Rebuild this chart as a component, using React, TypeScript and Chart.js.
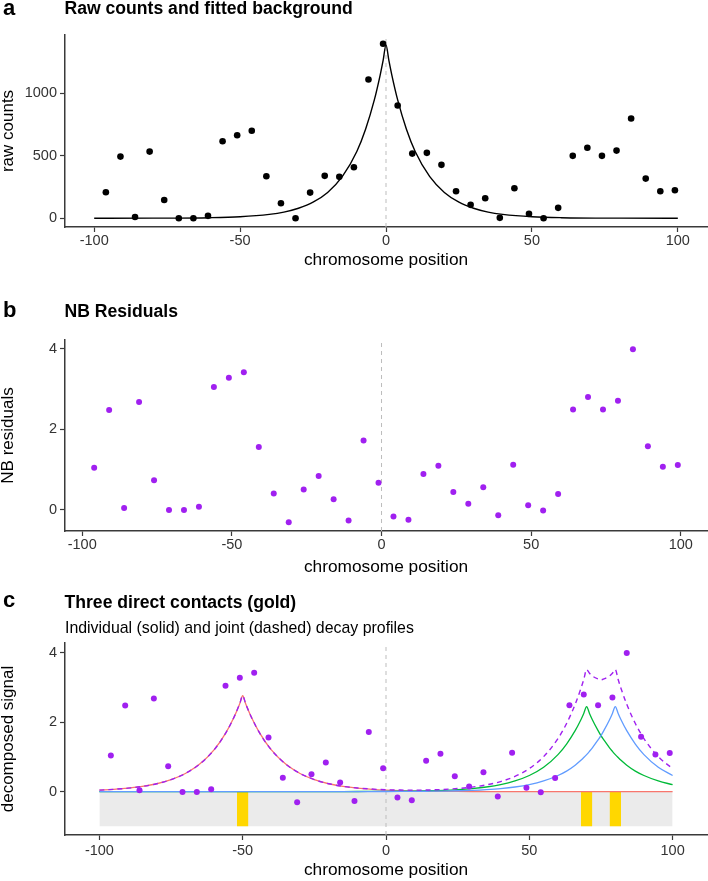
import React, { useEffect, useRef } from 'react';
import { Chart, registerables } from 'chart.js';
Chart.register(...registerables);

const FONT = '"Liberation Sans", Arial, Helvetica, sans-serif';

// ---- data ----
const POSITIONS = [-96, -91, -86, -81, -76, -71, -66, -61, -56, -51, -46, -41, -36, -31, -26, -21, -16, -11, -6, -1, 4, 9, 14, 19, 24, 29, 34, 39, 44, 49, 54, 59, 64, 69, 74, 79, 84, 89, 94, 99];
const RAW_COUNTS = [208, 493, 10, 533, 146, 0, 0, 19, 616, 664, 699, 336, 120, 0, 205, 339, 331, 408, 1109, 1395, 901, 517, 523, 427, 216, 107, 160, 3, 240, 35, 0, 83, 499, 563, 499, 541, 797, 317, 216, 224];
const NB_RESIDUALS = [1.04, 2.48, 0.04, 2.68, 0.73, -0.01, -0.01, 0.07, 3.05, 3.28, 3.42, 1.56, 0.40, -0.31, 0.50, 0.84, 0.26, -0.27, 1.72, 0.67, -0.17, -0.25, 0.89, 1.09, 0.44, 0.15, 0.56, -0.14, 1.12, 0.11, -0.02, 0.39, 2.49, 2.80, 2.49, 2.71, 3.99, 1.58, 1.07, 1.11];

const BG_X = [-100, -80, -60, -50, -40, -35, -30, -25, -20, -15, -10, -7, -4, -2, -1, 0, 1, 2, 4, 7, 10, 15, 20, 25, 30, 35, 40, 50, 60, 80, 100];
const BG_FIT = [0.1, 0.7, 4.5, 12, 31, 49, 80, 128, 206, 332, 534, 712, 946, 1145, 1260, 1386, 1260, 1145, 946, 712, 534, 332, 206, 128, 80, 49, 31, 12, 4.5, 0.7, 0.1];

const PROFILE_X = [-100, -95, -90, -85, -80, -75, -70, -65, -60, -56, -53, -51, -50, -49, -47, -44, -40, -35, -30, -25, -20, -15, -10, -5, 0, 5, 10, 15, 20, 25, 30, 35, 40, 45, 50, 55, 60, 63, 66, 68, 69, 70, 71, 72, 74, 75, 76, 78, 79, 80, 81, 82, 84, 87, 90, 95, 100];
const CONTACT1 = [0.043, 0.066, 0.099, 0.149, 0.226, 0.345, 0.522, 0.792, 1.20, 1.675, 2.15, 2.54, 2.76, 2.54, 2.15, 1.675, 1.20, 0.792, 0.522, 0.345, 0.226, 0.149, 0.099, 0.066, 0.043, 0.028, 0.018, 0.012, 0.008, 0.005, 0.003, 0.002, 0.001, 0, 0, 0, 0, 0, 0, 0, 0, 0, 0, 0, 0, 0, 0, 0, 0, 0, 0, 0, 0, 0, 0, 0, 0];
const CONTACT2 = [0, 0, 0, 0, 0, 0, 0, 0, 0, 0, 0, 0, 0, 0, 0, 0, 0, 0, 0, 0, 0.001, 0.002, 0.003, 0.005, 0.007, 0.011, 0.016, 0.025, 0.038, 0.059, 0.088, 0.132, 0.20, 0.306, 0.463, 0.70, 1.065, 1.37, 1.755, 2.07, 2.25, 2.45, 2.25, 2.07, 1.755, 1.61, 1.49, 1.26, 1.16, 1.065, 0.98, 0.90, 0.76, 0.59, 0.463, 0.306, 0.20];
const CONTACT3 = [0, 0, 0, 0, 0, 0, 0, 0, 0, 0, 0, 0, 0, 0, 0, 0, 0, 0, 0, 0, 0, 0, 0.001, 0.002, 0.003, 0.005, 0.007, 0.011, 0.016, 0.025, 0.038, 0.059, 0.088, 0.132, 0.20, 0.306, 0.463, 0.59, 0.76, 0.90, 0.98, 1.065, 1.16, 1.26, 1.49, 1.61, 1.755, 2.07, 2.25, 2.45, 2.25, 2.07, 1.755, 1.37, 1.065, 0.70, 0.463];
const JOINT = [0.043, 0.066, 0.099, 0.149, 0.226, 0.345, 0.522, 0.792, 1.20, 1.675, 2.15, 2.54, 2.76, 2.54, 2.15, 1.675, 1.20, 0.792, 0.522, 0.345, 0.227, 0.151, 0.103, 0.073, 0.053, 0.044, 0.041, 0.048, 0.062, 0.089, 0.129, 0.193, 0.289, 0.438, 0.663, 1.006, 1.528, 1.96, 2.515, 2.97, 3.23, 3.515, 3.41, 3.33, 3.245, 3.22, 3.245, 3.33, 3.41, 3.515, 3.23, 2.97, 2.515, 1.96, 1.528, 1.006, 0.663];

const CONTACTS = [-50, 70, 80];
const REGION = [-100, 100];
const VLINE_X = 0;

const X_TICKS = [-100, -50, 0, 50, 100];
const A_Y_TICKS = [0, 500, 1000];
const B_Y_TICKS = [0, 2, 4];
const C_Y_TICKS = [0, 2, 4];

// ---- styles ----
const AXIS_COLOR = '#3a3a3a';
const TICK_TEXT = '#333333';
const PURPLE = '#A020F0';
const RED = '#F8766D';
const GREEN = '#00BA38';
const BLUE = '#619CFF';
const GOLD = '#FFD700';
const GREY_RECT = '#EBEBEB';
const VLINE = '#BDBDBD';

type Lims = { xMin: number; xMax: number; yMin: number; yMax: number };

function buildScales(l: Lims, yTicks: number[], yTitle: string, xAxisH: number, xTitlePad: number, xTickPad: number) {
  const border = { display: true, color: AXIS_COLOR, width: 1.5 };
  const grid = { display: true, drawOnChartArea: false, drawTicks: true, tickLength: 5, tickColor: AXIS_COLOR, tickWidth: 1.2 };
  return {
    x: {
      type: 'linear', min: l.xMin, max: l.xMax, border, grid,
      afterBuildTicks: (ax: any) => { ax.ticks = X_TICKS.map((v) => ({ value: v })); },
      afterFit: (ax: any) => { ax.height = xAxisH; },
      ticks: { autoSkip: false, maxRotation: 0, minRotation: 0, color: TICK_TEXT, padding: xTickPad, font: { family: FONT, size: 14.5 }, callback: (v: any) => String(v) },
      title: { display: true, text: 'chromosome position', color: '#000', font: { family: FONT, size: 17.3, lineHeight: 1 }, padding: { top: 0, bottom: xTitlePad } },
    },
    y: {
      type: 'linear', min: l.yMin, max: l.yMax, border, grid,
      afterBuildTicks: (ax: any) => { ax.ticks = yTicks.map((v) => ({ value: v })); },
      afterFit: (ax: any) => { ax.width = 65; },
      ticks: { autoSkip: false, color: TICK_TEXT, padding: 3, font: { family: FONT, size: 14.5 }, callback: (v: any) => String(v) },
      title: { display: true, text: yTitle, color: '#000', font: { family: FONT, size: 17, lineHeight: 1 }, padding: { top: 0, bottom: 0 } },
    },
  };
}

function decor(letter: string, title: string, subtitle: string | null, yLetter: number, yTitle: number, ySub: number) {
  return {
    id: 'decor',
    afterDraw(chart: any) {
      const ctx = chart.ctx;
      ctx.save();
      ctx.fillStyle = '#000';
      ctx.textAlign = 'left';
      ctx.textBaseline = 'alphabetic';
      ctx.font = `bold 22px ${FONT}`;
      ctx.fillText(letter, 3, yLetter);
      ctx.font = `bold 17.6px ${FONT}`;
      ctx.fillText(title, chart.chartArea.left - 0.5, yTitle);
      if (subtitle) {
        ctx.font = `15.9px ${FONT}`;
        ctx.fillText(subtitle, chart.chartArea.left, ySub);
      }
      ctx.restore();
    },
  };
}

function vlineDataset(l: Lims, order: number) {
  return {
    type: 'line', data: [{ x: VLINE_X, y: l.yMin }, { x: VLINE_X, y: l.yMax }],
    borderColor: VLINE, borderWidth: 1, borderDash: [4, 4], pointRadius: 0, fill: false, order,
  };
}

function pointsDataset(values: number[], color: string, radius: number, order: number) {
  return {
    type: 'line', showLine: false, data: POSITIONS.map((x, i) => ({ x, y: values[i] })),
    pointRadius: radius, pointBackgroundColor: color, pointBorderWidth: 0, borderColor: color, order,
  };
}

function curveDataset(xs: number[], ys: number[], color: string, width: number, order: number, dash?: number[]) {
  return {
    type: 'line', data: xs.map((x, i) => ({ x, y: ys[i] })),
    borderColor: color, borderWidth: width, borderDash: dash || [], pointRadius: 0, fill: false,
    cubicInterpolationMode: 'monotone', order,
  };
}

function rectDataset(x0: number, x1: number, y0: number, y1: number, color: string, order: number) {
  return {
    type: 'line', data: [{ x: x0, y: y0 }, { x: x1, y: y0 }],
    borderWidth: 0, borderColor: 'rgba(0,0,0,0)', backgroundColor: color, pointRadius: 0,
    fill: { value: y1 }, order,
  };
}

const LIMS_A: Lims = { xMin: -110, xMax: 110, yMin: -70, yMax: 1465 };
const LIMS_B: Lims = { xMin: -105.75, xMax: 108.75, yMin: -0.53, yMax: 4.22 };
const LIMS_C: Lims = { xMin: -112, xMax: 112, yMin: -1.25, yMax: 4.28 };

function makeConfig(panel: 'a' | 'b' | 'c'): any {
  let datasets: any[] = [];
  let scales: any;
  let padTop = 0;
  let plugin: any;
  if (panel === 'a') {
    datasets = [
      vlineDataset(LIMS_A, 5),
      curveDataset(BG_X, BG_FIT, '#000', 1.4, 4),
      pointsDataset(RAW_COUNTS, '#000', 3.3, 1),
    ];
    scales = buildScales(LIMS_A, A_Y_TICKS, 'raw counts', 53, 11.5, 0);
    padTop = 35;
    plugin = decor('a', 'Raw counts and fitted background', null, 15, 14, 0);
  } else if (panel === 'b') {
    datasets = [
      vlineDataset(LIMS_B, 5),
      pointsDataset(NB_RESIDUALS, PURPLE, 3, 1),
    ];
    scales = buildScales(LIMS_B, B_Y_TICKS, 'NB residuals', 49, 4.5, 0);
    padTop = 60;
    plugin = decor('b', 'NB Residuals', null, 36.7, 37, 0);
  } else {
    datasets = [
      rectDataset(REGION[0], REGION[1], -1, 0, GREY_RECT, 10),
      vlineDataset(LIMS_C, 9),
      ...CONTACTS.map((c) => rectDataset(c - 2, c + 2, -1, 0, GOLD, 8)),
      curveDataset(PROFILE_X, CONTACT1, RED, 1.3, 7),
      curveDataset(PROFILE_X, CONTACT2, GREEN, 1.3, 6),
      curveDataset(PROFILE_X, CONTACT3, BLUE, 1.3, 5),
      curveDataset(PROFILE_X, JOINT, PURPLE, 1.4, 4, [5, 4]),
      pointsDataset(NB_RESIDUALS, PURPLE, 3, 1),
    ];
    scales = buildScales(LIMS_C, C_Y_TICKS, 'decomposed signal', 46, 2.5, 2);
    padTop = 63;
    plugin = decor('c', 'Three direct contacts (gold)', 'Individual (solid) and joint (dashed) decay profiles', 27, 27.5, 53);
  }
  return {
    type: 'line',
    data: { datasets },
    options: {
      responsive: false,
      animation: false,
      devicePixelRatio: 1,
      layout: { padding: { top: padTop, right: 1, bottom: 0, left: 0 }, autoPadding: false },
      plugins: { legend: { display: false }, tooltip: { enabled: false }, title: { display: false } },
      scales,
    },
    plugins: [plugin],
  };
}

function Panel({ panel, top, height }: { panel: 'a' | 'b' | 'c'; top: number; height: number }) {
  const ref = useRef<HTMLCanvasElement | null>(null);
  useEffect(() => {
    if (!ref.current) return;
    const chart = new Chart(ref.current, makeConfig(panel));
    return () => chart.destroy();
  }, [panel]);
  return (
    <canvas
      ref={ref}
      width={708}
      height={height}
      style={{ position: 'absolute', left: 0, top, width: 708, height, display: 'block' }}
    />
  );
}

export default function App() {
  return (
    <div style={{ position: 'absolute', left: 0, top: 0, width: 708, height: 881, background: '#fff', overflow: 'hidden' }}>
      <Panel panel="a" top={0} height={280} />
      <Panel panel="b" top={280} height={300} />
      <Panel panel="c" top={580} height={301} />
    </div>
  );
}
